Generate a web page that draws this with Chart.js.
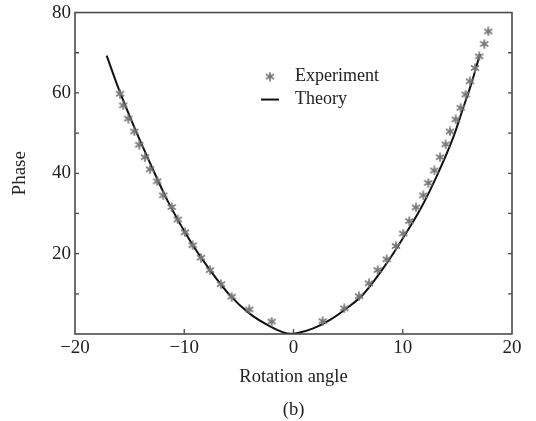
<!DOCTYPE html>
<html>
<head>
<meta charset="utf-8">
<script src="https://cdn.jsdelivr.net/npm/chart.js@4"></script>
<style>
  html, body { margin: 0; padding: 0; background: #fff; }
  #wrap { width: 536px; height: 421px; }
</style>
</head>
<body>
<div id="wrap"><canvas id="chart" width="536" height="421"></canvas></div>
<script>
// Phase vs rotation angle — measured points (*) and theory curve, panel (b)

const EXP_X = [-15.88, -15.58, -15.12, -14.57, -14.11, -13.59, -13.13, -12.47, -11.92, -11.15,
  -10.6, -9.93, -9.23, -8.47, -7.64, -6.64, -5.66, -4.05, -2.0,
  2.67, 4.65, 6.0, 6.91, 7.71, 8.53, 9.38, 10.05, 10.6, 11.21, 11.88,
  12.34, 12.89, 13.41, 13.93, 14.32, 14.85, 15.3, 15.76, 16.16, 16.61, 17.0, 17.46, 17.83];
const EXP_Y = [59.8, 56.9, 53.6, 50.4, 47.1, 44.0, 41.0, 38.0, 34.5, 31.6,
  28.5, 25.3, 22.1, 19.0, 15.9, 12.4, 9.3, 6.1, 3.1,
  3.2, 6.4, 9.4, 12.6, 15.9, 18.6, 21.9, 25.0, 28.1, 31.5, 34.5,
  37.6, 40.7, 44.0, 47.2, 50.4, 53.4, 56.3, 59.6, 62.9, 66.2, 69.1, 72.2, 75.3];

const THEORY_X = [-17.1, -16, -14.5, -13, -11.5, -9.47, -7.64, -5.81, -3.98, -2.15, -0.93, -0.3,
  0.29, 1.81, 3.34, 4.87, 6.39, 8.53, 10.05, 11.58, 13.11, 14.63, 15.5, 16.3, 17.07];
const THEORY_Y = [69.3, 61.0, 51.0, 41.8, 33.0, 23.2, 15.9, 9.6, 5.0, 1.9, 0.4, 0.05,
  0.2, 1.4, 3.5, 6.4, 9.9, 17.6, 24.0, 30.9, 39.3, 49.0, 56.0, 62.5, 69.7];

const X_TICKS = [-20, -10, 0, 10, 20];
const Y_TICKS = [20, 40, 60, 80];
const Y_MINOR = [10, 30, 50, 70];

const SERIF = "'Liberation Serif', 'DejaVu Serif', serif";
const AXIS_COLOR = "#4a4a4a";
const TEXT_COLOR = "#222";
const STAR_COLOR = "#777";

// 6-armed asterisk used for the experiment points
function makeAsterisk(size, color) {
  const c = document.createElement("canvas");
  c.width = c.height = size;
  const g = c.getContext("2d");
  g.strokeStyle = color;
  g.lineWidth = 1.7;
  g.lineCap = "round";
  const m = size / 2, r = size / 2 - 1;
  for (let k = 0; k < 3; k++) {
    const a = Math.PI / 2 + k * Math.PI / 3;
    g.beginPath();
    g.moveTo(m - r * Math.cos(a), m - r * Math.sin(a));
    g.lineTo(m + r * Math.cos(a), m + r * Math.sin(a));
    g.stroke();
  }
  return c;
}
const ASTERISK = makeAsterisk(10, STAR_COLOR);

// frame + inward ticks
const framePlugin = {
  id: "frame",
  afterDraw(chart) {
    const { ctx, chartArea: a, scales } = chart;
    const sx = scales.x, sy = scales.y;
    ctx.save();
    ctx.strokeStyle = AXIS_COLOR;
    ctx.lineWidth = 1.6;
    ctx.strokeRect(a.left, a.top, a.right - a.left, a.bottom - a.top);
    ctx.lineWidth = 1.3;
    ctx.beginPath();
    X_TICKS.slice(1, -1).forEach((v) => {
      const px = sx.getPixelForValue(v);
      ctx.moveTo(px, a.bottom);
      ctx.lineTo(px, a.bottom - 5);
    });
    [...Y_MINOR, ...Y_TICKS.slice(0, -1)].forEach((v) => {
      const py = sy.getPixelForValue(v);
      ctx.moveTo(a.left, py);
      ctx.lineTo(a.left + 4, py);
      ctx.moveTo(a.right, py);
      ctx.lineTo(a.right - 4, py);
    });
    ctx.stroke();
    ctx.restore();
  },
};

// legend inside the plot
const legendPlugin = {
  id: "innerLegend",
  afterDraw(chart) {
    const { ctx, chartArea: a } = chart;
    const lx = a.left + 195, y1 = a.top + 64, y2 = a.top + 87;
    ctx.save();
    ctx.drawImage(ASTERISK, lx - 5, y1 - 5);
    ctx.strokeStyle = "#111";
    ctx.lineWidth = 2;
    ctx.beginPath();
    ctx.moveTo(lx - 9, y2);
    ctx.lineTo(lx + 9, y2);
    ctx.stroke();
    ctx.fillStyle = TEXT_COLOR;
    ctx.font = "18px " + SERIF;
    ctx.textBaseline = "middle";
    ctx.fillText("Experiment", lx + 25, y1);
    ctx.fillText("Theory", lx + 25, y2);
    ctx.restore();
  },
};

const expData = EXP_X.map((x, i) => ({ x, y: EXP_Y[i] }));
const theoryData = THEORY_X.map((x, i) => ({ x, y: THEORY_Y[i] }));

new Chart(document.getElementById("chart"), {
  type: "scatter",
  data: {
    datasets: [
      {
        label: "Experiment",
        data: expData,
        pointStyle: ASTERISK,
        pointRadius: 5,
        showLine: false,
      },
      {
        label: "Theory",
        data: theoryData,
        showLine: true,
        borderColor: "#111",
        borderWidth: 2,
        pointRadius: 0,
        cubicInterpolationMode: "monotone",
      },
    ],
  },
  options: {
    responsive: false,
    animation: false,
    layout: { padding: { top: 12, right: 24, bottom: 0, left: 0 } },
    plugins: { legend: { display: false }, tooltip: { enabled: false } },
    scales: {
      x: {
        type: "linear",
        min: -20,
        max: 20,
        afterBuildTicks: (s) => { s.ticks = X_TICKS.map((v) => ({ value: v })); },
        afterFit: (s) => { s.height = 87; },
        ticks: {
          color: TEXT_COLOR,
          font: { family: SERIF, size: 19 },
          padding: 3,
          maxRotation: 0,
          autoSkip: false,
          callback: (v) => (v < 0 ? "\u2212" + Math.abs(v) : String(v)),
        },
        grid: { display: false, drawTicks: false },
        border: { display: false },
        title: {
          display: true,
          text: ["Rotation angle", "(b)"],
          color: TEXT_COLOR,
          font: { family: SERIF, size: 18.5, lineHeight: 1.75 },
          padding: { top: 0, bottom: -5 },
        },
      },
      y: {
        min: 0,
        max: 80,
        afterBuildTicks: (s) => { s.ticks = [0, ...Y_TICKS].map((v) => ({ value: v })); },
        afterFit: (s) => { s.width = 75; },
        ticks: {
          color: TEXT_COLOR,
          font: { family: SERIF, size: 19, lineHeight: 0.9 },
          padding: 4,
          callback: (v) => (v === 0 ? "" : String(v)),
        },
        grid: { display: false, drawTicks: false },
        border: { display: false },
        title: {
          display: true,
          text: "Phase",
          color: TEXT_COLOR,
          font: { family: SERIF, size: 19 },
          padding: { top: 9, bottom: 0 },
        },
      },
    },
  },
  plugins: [framePlugin, legendPlugin],
});
</script>
</body>
</html>
